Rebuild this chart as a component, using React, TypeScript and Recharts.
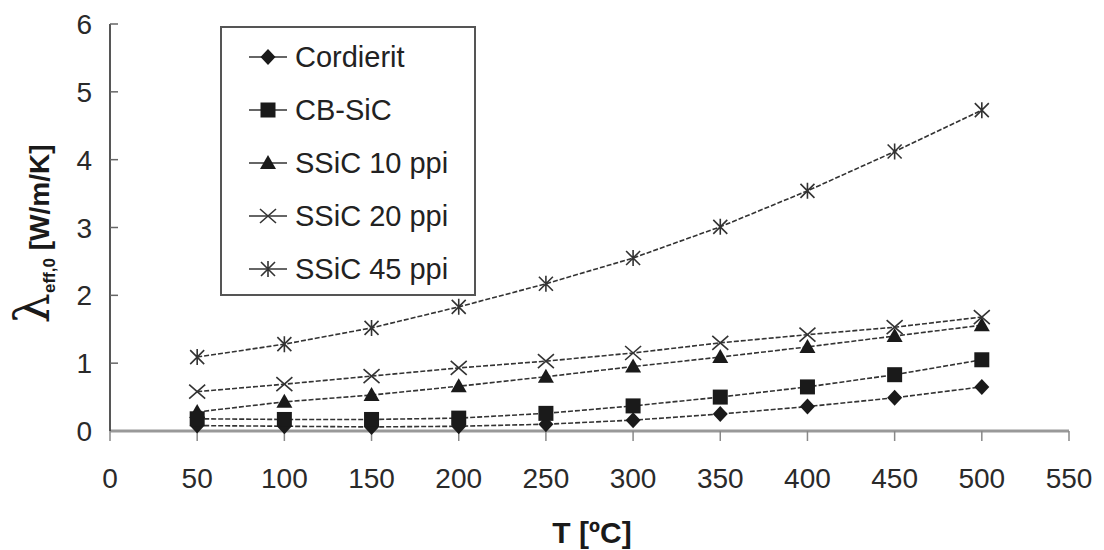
import React from 'react'
import { CartesianGrid, Label, Line, LineChart, XAxis, YAxis } from 'recharts'

if (typeof document !== 'undefined') document.body.style.margin = '0'

// temperature in °C
const temps = [50, 100, 150, 200, 250, 300, 350, 400, 450, 500]

// effective conductivity, W/m/K
const cordierit = [0.08, 0.07, 0.06, 0.07, 0.1, 0.16, 0.25, 0.36, 0.49, 0.65]
const cbSic = [0.18, 0.17, 0.17, 0.19, 0.26, 0.37, 0.5, 0.65, 0.83, 1.05]
const ssic10 = [0.28, 0.43, 0.53, 0.66, 0.8, 0.95, 1.09, 1.24, 1.4, 1.56]
const ssic20 = [0.58, 0.69, 0.81, 0.93, 1.03, 1.15, 1.3, 1.42, 1.53, 1.68]
const ssic45 = [1.09, 1.28, 1.52, 1.83, 2.17, 2.55, 3.01, 3.54, 4.12, 4.73]

const xTicks = [0, 50, 100, 150, 200, 250, 300, 350, 400, 450, 500, 550]
const yTicks = [0, 1, 2, 3, 4, 5, 6]

type Shape = 'diamond' | 'square' | 'triangle' | 'cross' | 'star'

const series: { key: string; name: string; values: number[]; shape: Shape }[] = [
  { key: 'cordierit', name: 'Cordierit', values: cordierit, shape: 'diamond' },
  { key: 'cbSic', name: 'CB-SiC', values: cbSic, shape: 'square' },
  { key: 'ssic10', name: 'SSiC 10 ppi', values: ssic10, shape: 'triangle' },
  { key: 'ssic20', name: 'SSiC 20 ppi', values: ssic20, shape: 'cross' },
  { key: 'ssic45', name: 'SSiC 45 ppi', values: ssic45, shape: 'star' },
]

const data = temps.map((t, i) => {
  const row: Record<string, number> = { t }
  series.forEach((s) => (row[s.key] = s.values[i]))
  return row
})

const FONT = '"Liberation Sans", Arial, sans-serif'
const INK = '#1a1a1a'

function marker(shape: Shape, cx: number, cy: number, key?: string | number) {
  switch (shape) {
    case 'diamond':
      return <path key={key} d={`M${cx},${cy - 8} L${cx + 7.5},${cy} L${cx},${cy + 8} L${cx - 7.5},${cy} Z`} fill={INK} />
    case 'square':
      return <rect key={key} x={cx - 7.5} y={cy - 7.5} width={15} height={15} fill={INK} />
    case 'triangle':
      return <path key={key} d={`M${cx},${cy - 8} L${cx + 8},${cy + 6} L${cx - 8},${cy + 6} Z`} fill={INK} />
    case 'cross':
      return (
        <path key={key} d={`M${cx - 8},${cy - 7} L${cx + 8},${cy + 7} M${cx + 8},${cy - 7} L${cx - 8},${cy + 7}`}
          stroke="#333" strokeWidth={1.6} fill="none" />
      )
    default:
      return (
        <path key={key}
          d={`M${cx - 7},${cy - 7} L${cx + 7},${cy + 7} M${cx + 7},${cy - 7} L${cx - 7},${cy + 7} M${cx},${cy - 8} L${cx},${cy + 8}`}
          stroke="#333" strokeWidth={1.6} fill="none" />
      )
  }
}

const dotFor = (shape: Shape) => (p: any) => marker(shape, p.cx, p.cy, p.key ?? `${shape}-${p.index}`)

// y ticks sit to the right of the axis line
const YTick = (p: any) => (
  <g>
    <text x={p.x} y={p.y} dy="0.36em" textAnchor="end" fontFamily={FONT} fontSize={28} fill="#2a2a2a">
      {p.payload.value}
    </text>
    {p.payload.value !== 0 && <line x1={p.x + 18} x2={p.x + 26} y1={p.y} y2={p.y} stroke="#666" strokeWidth={1.5} />}
  </g>
)

const YTitle = () => (
  <text transform="translate(49, 234) rotate(-90)" textAnchor="middle" fill={INK} fontWeight="bold" fontFamily={FONT}>
    <tspan fontFamily='"DejaVu Serif", serif' fontWeight="normal" fontSize={48}>λ</tspan>
    <tspan fontSize={17} dy={6}>eff,0</tspan>
    <tspan fontSize={28} dy={-6}> [W/m/K]</tspan>
  </text>
)

const XTitle = () => (
  <text x={592} y={543} textAnchor="middle" fill={INK} fontWeight="bold" fontFamily={FONT} fontSize={30}>
    T [ºC]
  </text>
)

function LegendBox() {
  return (
    <div
      style={{
        position: 'absolute', left: 220, top: 26, width: 252, height: 266,
        border: '2px solid #555', background: '#fff', fontFamily: FONT, fontSize: 29, color: '#222',
      }}
    >
      {series.map((s, i) => (
        <div key={s.key} style={{ position: 'absolute', left: 26, top: 12 + i * 53, height: 34, display: 'flex', alignItems: 'center' }}>
          <svg width={40} height={24} style={{ marginRight: 7 }}>
            <line x1={1} x2={39} y1={12} y2={12} stroke="#333" strokeWidth={1.5} />
            {marker(s.shape, 20, 12)}
          </svg>
          <span>{s.name}</span>
        </div>
      ))}
    </div>
  )
}

export default function App() {
  return (
    <div style={{ position: 'relative', width: 1104, height: 550, background: '#fff' }}>
      <LineChart width={1104} height={550} data={data} margin={{ top: 24, right: 35, left: 0, bottom: 59 }}>
        <CartesianGrid stroke="none" />
        <XAxis
          dataKey="t" type="number" domain={[0, 550]} ticks={xTicks} interval={0}
          height={60} tickSize={10} tickMargin={27}
          axisLine={{ stroke: '#999', strokeWidth: 3 }}
          tickLine={{ stroke: '#888', strokeWidth: 1.5 }}
          tick={{ fontFamily: FONT, fontSize: 28, fill: '#2a2a2a' }}
        >
          <Label content={XTitle} />
        </XAxis>
        <YAxis
          type="number" domain={[0, 6]} ticks={yTicks} interval={0} width={110}
          tickSize={0} tickMargin={18} tickLine={false}
          axisLine={{ stroke: '#444', strokeWidth: 1.8 }}
          tick={YTick}
        >
          <Label content={YTitle} />
        </YAxis>
        {series.map((s) => (
          <Line
            key={s.key} dataKey={s.key} name={s.name} type="linear"
            stroke="#333" strokeWidth={1.6} strokeDasharray="5 2"
            dot={dotFor(s.shape)} activeDot={false} isAnimationActive={false}
          />
        ))}
      </LineChart>
      <LegendBox />
    </div>
  )
}
